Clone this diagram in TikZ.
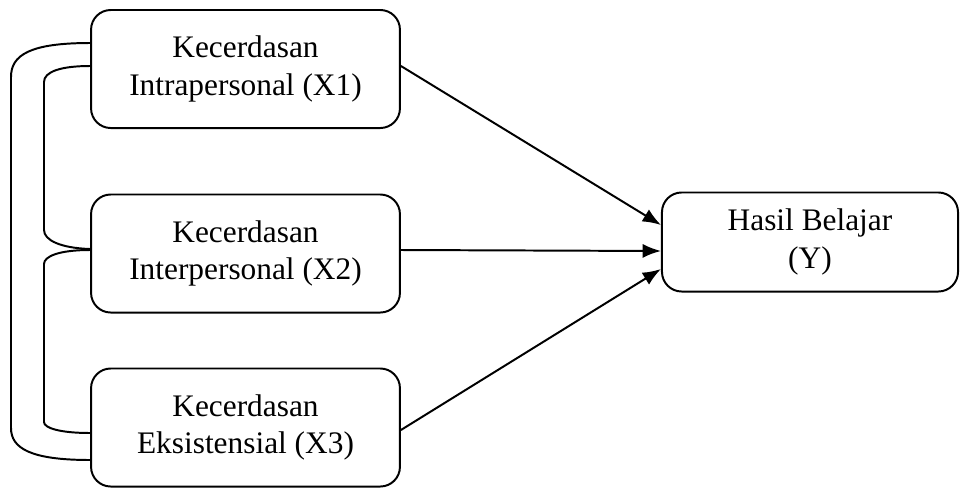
\documentclass[tikz,border=0pt]{standalone}
\usepackage{fontspec}
\setmainfont{Liberation Serif}
\usetikzlibrary{arrows.meta,calc}

\tikzset{
  varbox/.style={draw, line width=1.4pt, rounded corners=14pt, align=center, inner sep=0pt,
    minimum width=7.72cm, minimum height=2.95cm, font=\fontsize{22.3}{26.7}\selectfont},
  link/.style={line width=1.4pt}
}

\begin{document}
\begin{tikzpicture}[x=0.025cm, y=-0.025cm]
\useasboundingbox (0,0) rectangle (960,488);

\node[varbox] (x1) at (245.5,69) {Kecerdasan\\Intrapersonal (X1)};
\node[varbox] (x2) at (245.5,253.5) {Kecerdasan\\Interpersonal (X2)};
\node[varbox] (x3) at (245.5,427.5) {Kecerdasan\\Eksistensial (X3)};
\node[varbox, minimum width=7.4cm, minimum height=2.475cm] (y) at (810,242) {Hasil Belajar\\(Y)};

% korelasi antar variabel bebas
\draw [link] ($(x1.west)+(0,-26)$) .. controls (30,43) and (11,55) .. (11,77)
  -- (11,428) .. controls (11,448) and (30,460) .. ($(x3.west)+(0,32.5)$);
\draw [link] ($(x1.west)+(0,-3)$) .. controls (60,66) and (44,72) .. (44,82)
  -- (44,230) .. controls (44,240) and (60,248) .. ($(x2.west)+(0,-4.5)$);
\draw [link] ($(x2.west)+(0,-3.5)$) .. controls (60,250) and (44,256) .. (44,264)
  -- (44,422) .. controls (44,428) and (60,433) .. ($(x3.west)+(0,5.5)$);

\draw [link, >={Latex[length=13pt,width=10pt]}, ->] ($(x1.east)+(0,-3)$) -- ($(y.west)+(0,-17)$);
\draw [link, >={Latex[length=13pt,width=10pt]}, ->] ($(x2.east)+(0,-3.5)$) -- ($(y.west)+(0,9)$);
\draw [link, >={Latex[length=13pt,width=10pt]}, ->] ($(x3.east)+(0,2.5)$) -- ($(y.west)+(0,27)$);
\end{tikzpicture}
\end{document}
